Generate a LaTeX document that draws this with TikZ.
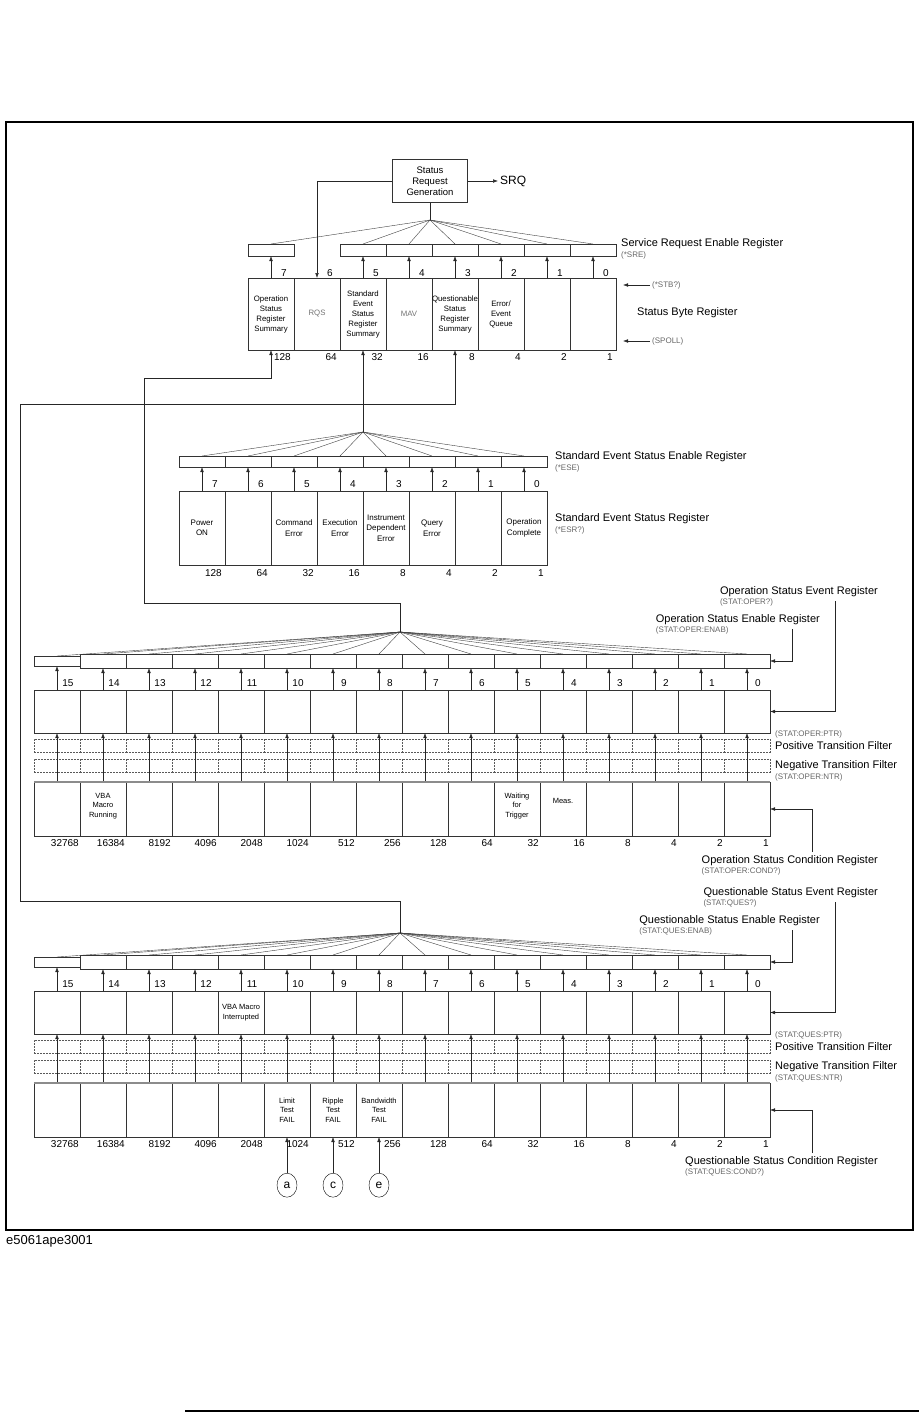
\documentclass[tikz,border=0pt]{standalone}
\usepackage{fontspec}
\setmainfont{Liberation Sans}
\usetikzlibrary{arrows.meta, positioning, shapes.geometric}

\tikzset{
  arr/.style={-{Latex[length=5pt,width=3.6pt]}, line width=0.5pt, black!85},
  wire/.style={line width=0.5pt, black!85},
  fan/.style={line width=0.4pt, black!75},
  reg/.style={draw=black!80, line width=0.5pt, anchor=north west, inner sep=0pt, outer sep=0pt, minimum width=46pt},
  filt/.style={reg, draw=black!65, dash pattern=on 2pt off 1pt, minimum height=13pt},
  lbl/.style={inner sep=0pt, font=\fontsize{11}{12}\selectfont},
  sub/.style={inner sep=0pt, font=\fontsize{8}{8.5}\selectfont, text=black!60},
  num/.style={inner sep=0pt, font=\fontsize{10}{11}\selectfont},
  sbtxt/.style={align=center, font=\fontsize{7.8}{10}\selectfont},
  estxt/.style={align=center, font=\fontsize{8}{10.5}\selectfont},
  optxt/.style={align=center, font=\fontsize{7.5}{9.5}\selectfont},
  tag/.style={draw, ellipse, minimum width=20pt, minimum height=24pt, inner sep=0pt, font=\fontsize{12}{12}\selectfont},
}

\begin{document}
\begin{tikzpicture}[x=1pt, y=-1pt]
\useasboundingbox (0,0) rectangle (919,1413);
\draw[line width=1.8pt] (6,122) rectangle (913,1230);
\draw[line width=2pt] (185,1411) -- (919,1411);
\node[lbl, anchor=west, font=\fontsize{13}{13}\selectfont] (fig-id) at (6,1241) {e5061ape3001};

% status byte register
\node[draw=black!80, line width=0.5pt, minimum width=75pt, minimum height=43pt, inner sep=0pt, align=center, font=\fontsize{9.5}{11}\selectfont] (srg) at (430,181) {Status\\Request\\Generation};
\node[anchor=west, inner sep=2pt, font=\fontsize{12}{12}\selectfont] (srq) at (498,181) {SRQ};
\draw[arr] (srg.east) -- (srq.west);
\coordinate (sre-ap) at (430,220);
\draw[wire] (srg.south) -- (sre-ap);

\foreach \i/\t in {7/{Operation\\Status\\Register\\Summary}, 6/{\textcolor{black!55}{RQS}}, 5/{Standard\\Event\\Status\\Register\\Summary}, 4/{\textcolor{black!55}{MAV}}, 3/{Questionable\\Status\\Register\\Summary}, 2/{Error/\\Event\\Queue}, 1/{}, 0/{}}
  \node[reg, sbtxt, minimum height=72pt] (sb\i) at ({248+46*(7-\i)},278) {\t};

\foreach \i in {7,5,4,3,2,1,0} {
  \node[reg, minimum height=12pt] (sre\i) at ({248+46*(7-\i)},244) {};
  \draw[fan] (sre-ap) -- (sre\i.north);
  \draw[arr] (sb\i.north) -- (sre\i.south);
}
\draw[arr] (srg.west) -| (sb6.north);

\foreach \i/\w in {7/128,6/64,5/32,4/16,3/8,2/4,1/2,0/1} {
  \node[num] (sbn\i) at ([xshift=-10pt,yshift=5pt]sb\i.north east) {\i};
  \node[num, anchor=east] (sbw\i) at ([xshift=-3pt,yshift=-7pt]sb\i.south east) {\w};
}

\node[lbl, anchor=west] (sre-lbl) at (621,244) {Service Request Enable Register};
\node[sub, anchor=north west] (sre-sub) at ([yshift=-2pt]sre-lbl.south west) {(*SRE)};
\node[sub, anchor=west, inner sep=2pt] (stb) at (650,285) {(*STB?)};
\coordinate (stb-tip) at (623,285);
\draw[arr] (stb) -- (stb-tip);
\node[lbl, anchor=west] (sbr-lbl) at (637,313) {Status Byte Register};
\node[sub, anchor=west, inner sep=2pt] (spoll) at (650,341) {(SPOLL)};
\coordinate (spoll-tip) at (623,341);
\draw[arr] (spoll) -- (spoll-tip);

% standard event status register
\coordinate (ese-ap) at (363,432);
\draw[arr] (ese-ap) -- (sb5.south);
\foreach \i/\t in {7/{Power\\ON}, 6/{}, 5/{Command\\Error}, 4/{Execution\\Error}, 3/{Instrument\\Dependent\\Error}, 2/{Query\\Error}, 1/{}, 0/{Operation\\Complete}}
  \node[reg, estxt, minimum height=74pt] (esr\i) at ({179+46*(7-\i)},491) {\t};
\foreach \i/\w in {7/128,6/64,5/32,4/16,3/8,2/4,1/2,0/1} {
  \node[reg, minimum height=11pt] (ese\i) at ({179+46*(7-\i)},456) {};
  \draw[fan] (ese-ap) -- (ese\i.north);
  \draw[arr] (esr\i.north) -- (ese\i.south);
  \node[num] (esn\i) at ([xshift=-10pt,yshift=7pt]esr\i.north east) {\i};
  \node[num, anchor=east] (esw\i) at ([xshift=-3pt,yshift=-8pt]esr\i.south east) {\w};
}
\node[lbl, anchor=west] (ese-lbl) at (555,457) {Standard Event Status Enable Register};
\node[sub, anchor=north west] (ese-sub) at ([yshift=-2pt]ese-lbl.south west) {(*ESE)};
\node[lbl, anchor=west] (esr-lbl) at (555,519) {Standard Event Status Register};
\node[sub, anchor=north west] (esr-sub) at ([yshift=-2pt]esr-lbl.south west) {(*ESR?)};

% operation and questionable status registers
\foreach \s/\yo/\nm/\cd in {op/0/Operation/OPER, qu/301/Questionable/QUES} {
  \coordinate (\s-ap) at (400,{632+\yo});
  \foreach \i/\w in {0/1,1/2,2/4,3/8,4/16,5/32,6/64,7/128,8/256,9/512,10/1024,11/2048,12/4096,13/8192,14/16384,15/32768} {
    \pgfmathsetmacro\x{34+46*(15-\i)}
    \ifnum\i=15
      \node[reg, minimum height=10pt] (\s-en-\i) at (\x,{656+\yo}) {};
    \else
      \node[reg, minimum height=14pt] (\s-en-\i) at (\x,{654+\yo}) {};
    \fi
    \node[reg, minimum height=43pt] (\s-ev-\i) at (\x,{690+\yo}) {};
    \node[filt] (\s-pf-\i) at (\x,{739+\yo}) {};
    \node[filt] (\s-nf-\i) at (\x,{759+\yo}) {};
    \node[reg, minimum height=54pt] (\s-cd-\i) at (\x,{782+\yo}) {};
    \draw[fan] (\s-ap) -- (\s-en-\i.north);
    \draw[arr] (\s-ev-\i.north) -- (\s-en-\i.south);
    \draw[arr] (\s-cd-\i.north) -- (\s-ev-\i.south);
    \node[num] (\s-bn-\i) at ([xshift=-12pt,yshift=7pt]\s-ev-\i.north east) {\i};
    \node[num, anchor=east] (\s-bw-\i) at ([xshift=-1pt,yshift=-7pt]\s-cd-\i.south east) {\w};
  }
  \draw[line width=1.5pt, black!45] (\s-cd-15.north west) -- (\s-cd-0.north east);

  \node[lbl, anchor=east] (\s-evl) at (878,{592+\yo}) {\nm\ Status Event Register};
  \node[sub, anchor=north west] (\s-evs) at ([yshift=-1.5pt]\s-evl.south west) {(STAT:\cd?)};
  \node[lbl, anchor=east] (\s-enl) at (820,{620+\yo}) {\nm\ Status Enable Register};
  \node[sub, anchor=north west] (\s-ens) at ([yshift=-1.5pt]\s-enl.south west) {(STAT:\cd:ENAB)};
  \node[lbl, anchor=east] (\s-cdl) at (878,{861+\yo}) {\nm\ Status Condition Register};
  \node[sub, anchor=north west] (\s-cds) at ([yshift=-1.5pt]\s-cdl.south west) {(STAT:\cd:COND?)};
  \coordinate (\s-evk) at (835,{601+\yo});
  \coordinate (\s-enk) at (792,{629+\yo});
  \coordinate (\s-cdk) at (812,{852+\yo});
  \draw[arr] (\s-evk) |- (\s-ev-0.east);
  \draw[arr] (\s-enk) |- (\s-en-0.east);
  \draw[arr] (\s-cdk) |- (\s-cd-0.east);

  \node[sub, anchor=west] (\s-ptr) at (775,{734+\yo}) {(STAT:\cd:PTR)};
  \node[lbl, anchor=west] (\s-pfl) at (775,{746+\yo}) {Positive Transition Filter};
  \node[lbl, anchor=west] (\s-nfl) at (775,{766+\yo}) {Negative Transition Filter};
  \node[sub, anchor=west] (\s-ntr) at (775,{777+\yo}) {(STAT:\cd:NTR)};
}

% summary links into the status byte
\coordinate (op-bend) at (144,603);
\coordinate (qu-bend) at (20,901);
\draw[arr] (op-ap) |- (op-bend) |- ([yshift=-28pt]sb7.south) -- (sb7.south);
\draw[arr] (qu-ap) |- (qu-bend) |- ([yshift=-54pt]sb3.south) -- (sb3.south);

% bit texts
\node[optxt] (op-vba) at ([yshift=3pt]op-cd-14) {VBA\\Macro\\Running};
\node[optxt] (op-wait) at ([yshift=3pt]op-cd-5) {Waiting\\for\\Trigger};
\node[optxt] (op-meas) at ([yshift=8pt]op-cd-4) {Meas.};
\node[optxt] (qu-vba) at (qu-ev-11) {VBA Macro\\Interrupted};
\node[optxt] (qu-lim) at (qu-cd-10) {Limit\\Test\\FAIL};
\node[optxt] (qu-rip) at (qu-cd-9) {Ripple\\Test\\FAIL};
\node[optxt] (qu-bw) at (qu-cd-8) {Bandwidth\\Test\\FAIL};

% test fail inputs
\node[tag, below=36pt of qu-cd-10] (tag-a) {a};
\node[tag, below=36pt of qu-cd-9] (tag-c) {c};
\node[tag, below=36pt of qu-cd-8] (tag-e) {e};
\draw[arr] (tag-a) -- (qu-cd-10.south);
\draw[arr] (tag-c) -- (qu-cd-9.south);
\draw[arr] (tag-e) -- (qu-cd-8.south);
\end{tikzpicture}
\end{document}
